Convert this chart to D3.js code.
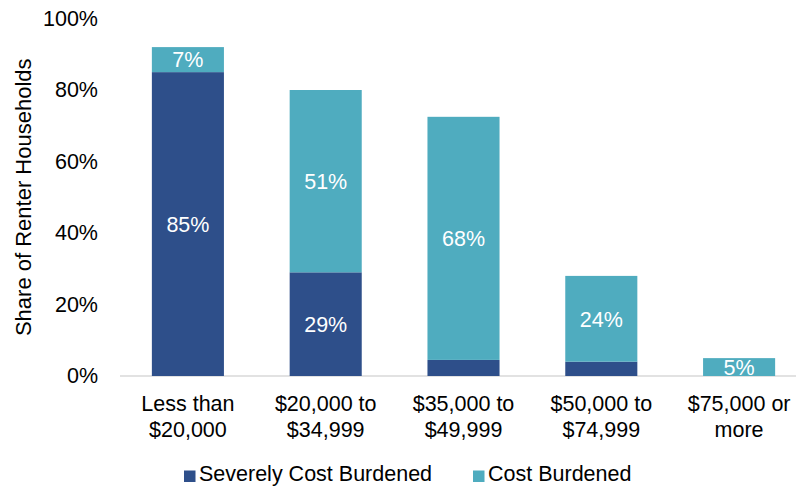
<!DOCTYPE html>
<html>
<head>
<meta charset="utf-8">
<script src="https://cdn.jsdelivr.net/npm/d3@7"></script>
<style>
  html, body { margin: 0; padding: 0; background: #fff; }
  svg { display: block; font-family: "Liberation Sans", Arial, sans-serif; }
</style>
</head>
<body>
<svg id="chart" width="796" height="487"></svg>
<script>
// Income brackets (two-line labels)
const categories = [
  ["Less than", "$20,000"],
  ["$20,000 to", "$34,999"],
  ["$35,000 to", "$49,999"],
  ["$50,000 to", "$74,999"],
  ["$75,000 or", "more"]
];
// Share of renter households, percent
const severelyBurdened = [85, 29, 4.5, 4, 0];
const costBurdened = [7, 51, 68, 24, 5];
// Labels printed inside segments (null = no label)
const severeLabels = ["85%", "29%", null, null, null];
const costLabels = ["7%", "51%", "68%", "24%", "5%"];
const yTicks = [0, 20, 40, 60, 80, 100];
const seriesNames = ["Severely Cost Burdened", "Cost Burdened"];
const colors = ["#2E4F8A", "#4FACBF"];

const svg = d3.select("#chart");
const margin = { left: 119, right: -12, top: 18.5, bottom: 111 };
const W = 796, H = 487;
const FS = 21.5;

const x = d3.scaleBand()
  .domain(d3.range(categories.length))
  .range([margin.left, W - margin.right])
  .paddingInner(0.477)
  .paddingOuter(0.2385);

const y = d3.scaleLinear()
  .domain([0, 100])
  .range([H - margin.bottom, margin.top]);

// Baseline axis
svg.append("line")
  .attr("x1", 120).attr("x2", W)
  .attr("y1", y(0)).attr("y2", y(0))
  .attr("stroke", "#D9D9D9").attr("stroke-width", 1.5);

// Y tick labels
const yAxis = d3.axisLeft(y).tickValues(yTicks).tickFormat(d => d + "%").tickSize(0).tickPadding(0);
const gy = svg.append("g").attr("transform", "translate(98,0)").call(yAxis);
gy.select(".domain").remove();
gy.selectAll("text")
  .attr("font-size", FS)
  .attr("fill", "#000")
  .attr("font-family", "Liberation Sans, Arial, sans-serif");

// Y axis title
svg.append("text")
  .attr("transform", `translate(31,${(y(0) + y(100)) / 2}) rotate(-90)`)
  .attr("text-anchor", "middle")
  .attr("font-size", 22)
  .attr("fill", "#000")
  .text("Share of Renter Households");

// Stacked bars
const data = categories.map((c, i) => ({ i, severe: severelyBurdened[i], cost: costBurdened[i] }));
const stacked = d3.stack().keys(["severe", "cost"])(data);
const labels = [severeLabels, costLabels];

stacked.forEach((layer, k) => {
  const g = svg.append("g");
  g.selectAll("rect")
    .data(layer)
    .join("rect")
    .attr("x", d => x(d.data.i))
    .attr("width", x.bandwidth())
    .attr("y", d => y(d[1]))
    .attr("height", d => y(d[0]) - y(d[1]))
    .attr("fill", colors[k]);
  g.selectAll("text")
    .data(layer.filter(d => labels[k][d.data.i]))
    .join("text")
    .attr("x", d => x(d.data.i) + x.bandwidth() / 2)
    .attr("y", d => (y(d[0]) + y(d[1])) / 2)
    .attr("dy", "0.36em")
    .attr("text-anchor", "middle")
    .attr("font-size", FS)
    .attr("fill", "#fff")
    .text(d => labels[k][d.data.i]);
});

// Category labels
const gx = svg.append("g");
categories.forEach((lines, i) => {
  const t = gx.append("text")
    .attr("x", x(i) + x.bandwidth() / 2)
    .attr("y", 411)
    .attr("text-anchor", "middle")
    .attr("font-size", FS)
    .attr("fill", "#000");
  lines.forEach((ln, j) => {
    t.append("tspan").attr("x", x(i) + x.bandwidth() / 2).attr("dy", j ? 26 : 0).text(ln);
  });
});

// Legend
const legendItems = [{ x: 184, name: seriesNames[0], c: colors[0] }, { x: 473, name: seriesNames[1], c: colors[1] }];
const lg = svg.append("g");
legendItems.forEach(it => {
  lg.append("rect").attr("x", it.x).attr("y", 470.5).attr("width", 11.5).attr("height", 11.5).attr("fill", it.c);
  lg.append("text").attr("x", it.x + 15).attr("y", 481)
    .attr("font-size", FS).attr("fill", "#000").text(it.name);
});
</script>
</body>
</html>
